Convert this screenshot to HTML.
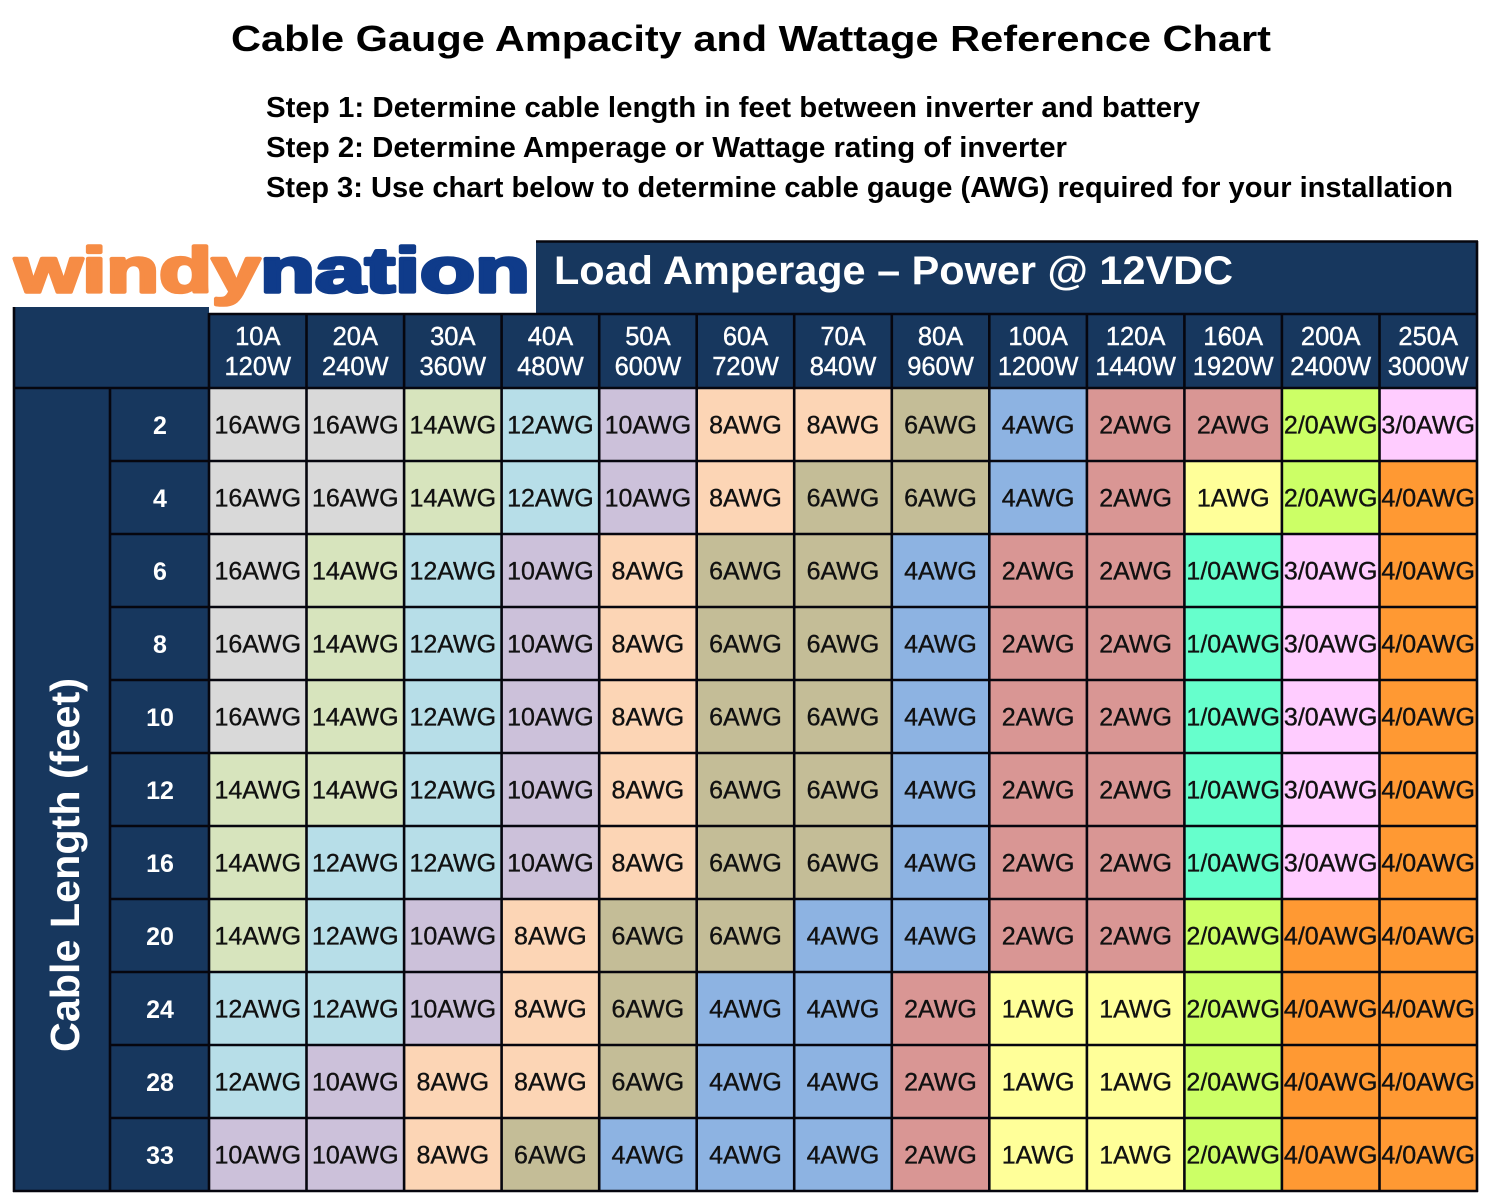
<!DOCTYPE html>
<html><head><meta charset="utf-8"><style>
html,body{margin:0;padding:0;background:#fff;}
svg{display:block;}
.c16{fill:#d9d9d9}.c14{fill:#d7e4bd}.c12{fill:#b7dee8}.c10{fill:#ccc1da}.c8{fill:#fcd5b5}.c6{fill:#c4bd97}
.c4{fill:#8db3e2}.c2{fill:#d99694}.c1{fill:#ffff99}.z1{fill:#66ffcc}.z2{fill:#ccff66}.z3{fill:#ffccff}.z4{fill:#ff9933}
.t{font-family:"Liberation Sans",Arial,sans-serif;font-size:25px;fill:#111;stroke:#111;stroke-width:0.35;text-anchor:middle}
.h{font-family:"Liberation Sans",Arial,sans-serif;font-size:25.5px;fill:#fff;stroke:#fff;stroke-width:0.4;text-anchor:middle}
.r{font-family:"Liberation Sans",Arial,sans-serif;font-size:25px;font-weight:bold;fill:#fff;text-anchor:middle}
.ln{stroke:#06060e;stroke-width:2.6}
</style></head><body>
<svg width="1502" height="1193" viewBox="0 0 1502 1193" xmlns="http://www.w3.org/2000/svg">
<rect width="1502" height="1193" fill="#fff"/>
<text x="231" y="51" font-family="Liberation Sans, Arial, sans-serif" font-size="36" font-weight="bold" fill="#000" textLength="1040" lengthAdjust="spacingAndGlyphs">Cable Gauge Ampacity and Wattage Reference Chart</text>
<g font-family="Liberation Sans, Arial, sans-serif" font-size="29" font-weight="bold" fill="#000">
<text x="266" y="117" textLength="934" lengthAdjust="spacingAndGlyphs">Step 1: Determine cable length in feet between inverter and battery</text>
<text x="266" y="157" textLength="801" lengthAdjust="spacingAndGlyphs">Step 2: Determine Amperage or Wattage rating of inverter</text>
<text x="266" y="197" textLength="1187" lengthAdjust="spacingAndGlyphs">Step 3: Use chart below to determine cable gauge (AWG) required for your installation</text>
</g>
<!-- logo -->
<text x="15" y="292" font-family="Liberation Sans, Arial, sans-serif" font-size="63" font-weight="bold" fill="#f68c45" stroke="#f68c45" stroke-width="3.5" stroke-linejoin="round" textLength="245" lengthAdjust="spacingAndGlyphs">windy</text>
<text x="260" y="292" font-family="Liberation Sans, Arial, sans-serif" font-size="63" font-weight="bold" fill="#0f3b8a" stroke="#0f3b8a" stroke-width="3.5" stroke-linejoin="round" textLength="270" lengthAdjust="spacingAndGlyphs">nation</text>
<!-- navy areas -->
<rect x="536" y="241" width="942" height="73" fill="#17375e"/>
<rect x="14" y="307" width="195" height="884" fill="#17375e"/>
<rect x="209" y="313" width="1269" height="76" fill="#17375e"/>
<text x="554" y="284" font-family="Liberation Sans, Arial, sans-serif" font-size="40" font-weight="bold" fill="#fff" textLength="679" lengthAdjust="spacingAndGlyphs">Load Amperage – Power @ 12VDC</text>
<!-- column headers -->
<g>
<text class="h" x="257.8" y="345">10A</text><text class="h" x="257.8" y="375">120W</text>
<text class="h" x="355.3" y="345">20A</text><text class="h" x="355.3" y="375">240W</text>
<text class="h" x="452.8" y="345">30A</text><text class="h" x="452.8" y="375">360W</text>
<text class="h" x="550.4" y="345">40A</text><text class="h" x="550.4" y="375">480W</text>
<text class="h" x="647.9" y="345">50A</text><text class="h" x="647.9" y="375">600W</text>
<text class="h" x="745.5" y="345">60A</text><text class="h" x="745.5" y="375">720W</text>
<text class="h" x="843.0" y="345">70A</text><text class="h" x="843.0" y="375">840W</text>
<text class="h" x="940.5" y="345">80A</text><text class="h" x="940.5" y="375">960W</text>
<text class="h" x="1038.1" y="345">100A</text><text class="h" x="1038.1" y="375">1200W</text>
<text class="h" x="1135.6" y="345">120A</text><text class="h" x="1135.6" y="375">1440W</text>
<text class="h" x="1233.2" y="345">160A</text><text class="h" x="1233.2" y="375">1920W</text>
<text class="h" x="1330.7" y="345">200A</text><text class="h" x="1330.7" y="375">2400W</text>
<text class="h" x="1428.2" y="345">250A</text><text class="h" x="1428.2" y="375">3000W</text>
</g>
<!-- vertical label -->
<text transform="translate(79,865) rotate(-90)" text-anchor="middle" font-family="Liberation Sans, Arial, sans-serif" font-size="41" font-weight="bold" fill="#fff" textLength="374" lengthAdjust="spacingAndGlyphs">Cable Length (feet)</text>
<!-- row labels -->
<text class="r" x="160" y="434">2</text>
<text class="r" x="160" y="507">4</text>
<text class="r" x="160" y="580">6</text>
<text class="r" x="160" y="653">8</text>
<text class="r" x="160" y="726">10</text>
<text class="r" x="160" y="799">12</text>
<text class="r" x="160" y="872">16</text>
<text class="r" x="160" y="945">20</text>
<text class="r" x="160" y="1018">24</text>
<text class="r" x="160" y="1091">28</text>
<text class="r" x="160" y="1164">33</text>

<!-- Row 2 -->
<g transform="translate(0,0)">
<rect class="c16" x="209" y="388" width="97.6" height="73"/><rect class="c16" x="306.5" y="388" width="97.6" height="73"/><rect class="c14" x="404.1" y="388" width="97.6" height="73"/><rect class="c12" x="501.6" y="388" width="97.6" height="73"/><rect class="c10" x="599.2" y="388" width="97.6" height="73"/><rect class="c8" x="696.7" y="388" width="97.6" height="73"/><rect class="c8" x="794.2" y="388" width="97.6" height="73"/><rect class="c6" x="891.8" y="388" width="97.6" height="73"/><rect class="c4" x="989.3" y="388" width="97.6" height="73"/><rect class="c2" x="1086.9" y="388" width="97.6" height="73"/><rect class="c2" x="1184.4" y="388" width="97.6" height="73"/><rect class="z2" x="1281.9" y="388" width="97.6" height="73"/><rect class="z3" x="1379.5" y="388" width="97.6" height="73"/>
<text class="t" x="257.8" y="433.5">16AWG</text><text class="t" x="355.3" y="433.5">16AWG</text><text class="t" x="452.8" y="433.5">14AWG</text><text class="t" x="550.4" y="433.5">12AWG</text><text class="t" x="647.9" y="433.5">10AWG</text><text class="t" x="745.5" y="433.5">8AWG</text><text class="t" x="843.0" y="433.5">8AWG</text><text class="t" x="940.5" y="433.5">6AWG</text><text class="t" x="1038.1" y="433.5">4AWG</text><text class="t" x="1135.6" y="433.5">2AWG</text><text class="t" x="1233.2" y="433.5">2AWG</text><text class="t" x="1330.7" y="433.5">2/0AWG</text><text class="t" x="1428.2" y="433.5">3/0AWG</text>
</g>
<!-- Row 4 -->
<g transform="translate(0,73)">
<rect class="c16" x="209" y="388" width="97.6" height="73"/><rect class="c16" x="306.5" y="388" width="97.6" height="73"/><rect class="c14" x="404.1" y="388" width="97.6" height="73"/><rect class="c12" x="501.6" y="388" width="97.6" height="73"/><rect class="c10" x="599.2" y="388" width="97.6" height="73"/><rect class="c8" x="696.7" y="388" width="97.6" height="73"/><rect class="c6" x="794.2" y="388" width="97.6" height="73"/><rect class="c6" x="891.8" y="388" width="97.6" height="73"/><rect class="c4" x="989.3" y="388" width="97.6" height="73"/><rect class="c2" x="1086.9" y="388" width="97.6" height="73"/><rect class="c1" x="1184.4" y="388" width="97.6" height="73"/><rect class="z2" x="1281.9" y="388" width="97.6" height="73"/><rect class="z4" x="1379.5" y="388" width="97.6" height="73"/>
<text class="t" x="257.8" y="433.5">16AWG</text><text class="t" x="355.3" y="433.5">16AWG</text><text class="t" x="452.8" y="433.5">14AWG</text><text class="t" x="550.4" y="433.5">12AWG</text><text class="t" x="647.9" y="433.5">10AWG</text><text class="t" x="745.5" y="433.5">8AWG</text><text class="t" x="843.0" y="433.5">6AWG</text><text class="t" x="940.5" y="433.5">6AWG</text><text class="t" x="1038.1" y="433.5">4AWG</text><text class="t" x="1135.6" y="433.5">2AWG</text><text class="t" x="1233.2" y="433.5">1AWG</text><text class="t" x="1330.7" y="433.5">2/0AWG</text><text class="t" x="1428.2" y="433.5">4/0AWG</text>
</g>
<!-- Row 6 -->
<g transform="translate(0,146)">
<rect class="c16" x="209" y="388" width="97.6" height="73"/><rect class="c14" x="306.5" y="388" width="97.6" height="73"/><rect class="c12" x="404.1" y="388" width="97.6" height="73"/><rect class="c10" x="501.6" y="388" width="97.6" height="73"/><rect class="c8" x="599.2" y="388" width="97.6" height="73"/><rect class="c6" x="696.7" y="388" width="97.6" height="73"/><rect class="c6" x="794.2" y="388" width="97.6" height="73"/><rect class="c4" x="891.8" y="388" width="97.6" height="73"/><rect class="c2" x="989.3" y="388" width="97.6" height="73"/><rect class="c2" x="1086.9" y="388" width="97.6" height="73"/><rect class="z1" x="1184.4" y="388" width="97.6" height="73"/><rect class="z3" x="1281.9" y="388" width="97.6" height="73"/><rect class="z4" x="1379.5" y="388" width="97.6" height="73"/>
<text class="t" x="257.8" y="433.5">16AWG</text><text class="t" x="355.3" y="433.5">14AWG</text><text class="t" x="452.8" y="433.5">12AWG</text><text class="t" x="550.4" y="433.5">10AWG</text><text class="t" x="647.9" y="433.5">8AWG</text><text class="t" x="745.5" y="433.5">6AWG</text><text class="t" x="843.0" y="433.5">6AWG</text><text class="t" x="940.5" y="433.5">4AWG</text><text class="t" x="1038.1" y="433.5">2AWG</text><text class="t" x="1135.6" y="433.5">2AWG</text><text class="t" x="1233.2" y="433.5">1/0AWG</text><text class="t" x="1330.7" y="433.5">3/0AWG</text><text class="t" x="1428.2" y="433.5">4/0AWG</text>
</g>
<!-- Row 8 -->
<g transform="translate(0,219)">
<rect class="c16" x="209" y="388" width="97.6" height="73"/><rect class="c14" x="306.5" y="388" width="97.6" height="73"/><rect class="c12" x="404.1" y="388" width="97.6" height="73"/><rect class="c10" x="501.6" y="388" width="97.6" height="73"/><rect class="c8" x="599.2" y="388" width="97.6" height="73"/><rect class="c6" x="696.7" y="388" width="97.6" height="73"/><rect class="c6" x="794.2" y="388" width="97.6" height="73"/><rect class="c4" x="891.8" y="388" width="97.6" height="73"/><rect class="c2" x="989.3" y="388" width="97.6" height="73"/><rect class="c2" x="1086.9" y="388" width="97.6" height="73"/><rect class="z1" x="1184.4" y="388" width="97.6" height="73"/><rect class="z3" x="1281.9" y="388" width="97.6" height="73"/><rect class="z4" x="1379.5" y="388" width="97.6" height="73"/>
<text class="t" x="257.8" y="433.5">16AWG</text><text class="t" x="355.3" y="433.5">14AWG</text><text class="t" x="452.8" y="433.5">12AWG</text><text class="t" x="550.4" y="433.5">10AWG</text><text class="t" x="647.9" y="433.5">8AWG</text><text class="t" x="745.5" y="433.5">6AWG</text><text class="t" x="843.0" y="433.5">6AWG</text><text class="t" x="940.5" y="433.5">4AWG</text><text class="t" x="1038.1" y="433.5">2AWG</text><text class="t" x="1135.6" y="433.5">2AWG</text><text class="t" x="1233.2" y="433.5">1/0AWG</text><text class="t" x="1330.7" y="433.5">3/0AWG</text><text class="t" x="1428.2" y="433.5">4/0AWG</text>
</g>
<!-- Row 10 -->
<g transform="translate(0,292)">
<rect class="c16" x="209" y="388" width="97.6" height="73"/><rect class="c14" x="306.5" y="388" width="97.6" height="73"/><rect class="c12" x="404.1" y="388" width="97.6" height="73"/><rect class="c10" x="501.6" y="388" width="97.6" height="73"/><rect class="c8" x="599.2" y="388" width="97.6" height="73"/><rect class="c6" x="696.7" y="388" width="97.6" height="73"/><rect class="c6" x="794.2" y="388" width="97.6" height="73"/><rect class="c4" x="891.8" y="388" width="97.6" height="73"/><rect class="c2" x="989.3" y="388" width="97.6" height="73"/><rect class="c2" x="1086.9" y="388" width="97.6" height="73"/><rect class="z1" x="1184.4" y="388" width="97.6" height="73"/><rect class="z3" x="1281.9" y="388" width="97.6" height="73"/><rect class="z4" x="1379.5" y="388" width="97.6" height="73"/>
<text class="t" x="257.8" y="433.5">16AWG</text><text class="t" x="355.3" y="433.5">14AWG</text><text class="t" x="452.8" y="433.5">12AWG</text><text class="t" x="550.4" y="433.5">10AWG</text><text class="t" x="647.9" y="433.5">8AWG</text><text class="t" x="745.5" y="433.5">6AWG</text><text class="t" x="843.0" y="433.5">6AWG</text><text class="t" x="940.5" y="433.5">4AWG</text><text class="t" x="1038.1" y="433.5">2AWG</text><text class="t" x="1135.6" y="433.5">2AWG</text><text class="t" x="1233.2" y="433.5">1/0AWG</text><text class="t" x="1330.7" y="433.5">3/0AWG</text><text class="t" x="1428.2" y="433.5">4/0AWG</text>
</g>
<!-- Row 12 -->
<g transform="translate(0,365)">
<rect class="c14" x="209" y="388" width="97.6" height="73"/><rect class="c14" x="306.5" y="388" width="97.6" height="73"/><rect class="c12" x="404.1" y="388" width="97.6" height="73"/><rect class="c10" x="501.6" y="388" width="97.6" height="73"/><rect class="c8" x="599.2" y="388" width="97.6" height="73"/><rect class="c6" x="696.7" y="388" width="97.6" height="73"/><rect class="c6" x="794.2" y="388" width="97.6" height="73"/><rect class="c4" x="891.8" y="388" width="97.6" height="73"/><rect class="c2" x="989.3" y="388" width="97.6" height="73"/><rect class="c2" x="1086.9" y="388" width="97.6" height="73"/><rect class="z1" x="1184.4" y="388" width="97.6" height="73"/><rect class="z3" x="1281.9" y="388" width="97.6" height="73"/><rect class="z4" x="1379.5" y="388" width="97.6" height="73"/>
<text class="t" x="257.8" y="433.5">14AWG</text><text class="t" x="355.3" y="433.5">14AWG</text><text class="t" x="452.8" y="433.5">12AWG</text><text class="t" x="550.4" y="433.5">10AWG</text><text class="t" x="647.9" y="433.5">8AWG</text><text class="t" x="745.5" y="433.5">6AWG</text><text class="t" x="843.0" y="433.5">6AWG</text><text class="t" x="940.5" y="433.5">4AWG</text><text class="t" x="1038.1" y="433.5">2AWG</text><text class="t" x="1135.6" y="433.5">2AWG</text><text class="t" x="1233.2" y="433.5">1/0AWG</text><text class="t" x="1330.7" y="433.5">3/0AWG</text><text class="t" x="1428.2" y="433.5">4/0AWG</text>
</g>
<!-- Row 16 -->
<g transform="translate(0,438)">
<rect class="c14" x="209" y="388" width="97.6" height="73"/><rect class="c12" x="306.5" y="388" width="97.6" height="73"/><rect class="c12" x="404.1" y="388" width="97.6" height="73"/><rect class="c10" x="501.6" y="388" width="97.6" height="73"/><rect class="c8" x="599.2" y="388" width="97.6" height="73"/><rect class="c6" x="696.7" y="388" width="97.6" height="73"/><rect class="c6" x="794.2" y="388" width="97.6" height="73"/><rect class="c4" x="891.8" y="388" width="97.6" height="73"/><rect class="c2" x="989.3" y="388" width="97.6" height="73"/><rect class="c2" x="1086.9" y="388" width="97.6" height="73"/><rect class="z1" x="1184.4" y="388" width="97.6" height="73"/><rect class="z3" x="1281.9" y="388" width="97.6" height="73"/><rect class="z4" x="1379.5" y="388" width="97.6" height="73"/>
<text class="t" x="257.8" y="433.5">14AWG</text><text class="t" x="355.3" y="433.5">12AWG</text><text class="t" x="452.8" y="433.5">12AWG</text><text class="t" x="550.4" y="433.5">10AWG</text><text class="t" x="647.9" y="433.5">8AWG</text><text class="t" x="745.5" y="433.5">6AWG</text><text class="t" x="843.0" y="433.5">6AWG</text><text class="t" x="940.5" y="433.5">4AWG</text><text class="t" x="1038.1" y="433.5">2AWG</text><text class="t" x="1135.6" y="433.5">2AWG</text><text class="t" x="1233.2" y="433.5">1/0AWG</text><text class="t" x="1330.7" y="433.5">3/0AWG</text><text class="t" x="1428.2" y="433.5">4/0AWG</text>
</g>
<!-- Row 20 -->
<g transform="translate(0,511)">
<rect class="c14" x="209" y="388" width="97.6" height="73"/><rect class="c12" x="306.5" y="388" width="97.6" height="73"/><rect class="c10" x="404.1" y="388" width="97.6" height="73"/><rect class="c8" x="501.6" y="388" width="97.6" height="73"/><rect class="c6" x="599.2" y="388" width="97.6" height="73"/><rect class="c6" x="696.7" y="388" width="97.6" height="73"/><rect class="c4" x="794.2" y="388" width="97.6" height="73"/><rect class="c4" x="891.8" y="388" width="97.6" height="73"/><rect class="c2" x="989.3" y="388" width="97.6" height="73"/><rect class="c2" x="1086.9" y="388" width="97.6" height="73"/><rect class="z2" x="1184.4" y="388" width="97.6" height="73"/><rect class="z4" x="1281.9" y="388" width="97.6" height="73"/><rect class="z4" x="1379.5" y="388" width="97.6" height="73"/>
<text class="t" x="257.8" y="433.5">14AWG</text><text class="t" x="355.3" y="433.5">12AWG</text><text class="t" x="452.8" y="433.5">10AWG</text><text class="t" x="550.4" y="433.5">8AWG</text><text class="t" x="647.9" y="433.5">6AWG</text><text class="t" x="745.5" y="433.5">6AWG</text><text class="t" x="843.0" y="433.5">4AWG</text><text class="t" x="940.5" y="433.5">4AWG</text><text class="t" x="1038.1" y="433.5">2AWG</text><text class="t" x="1135.6" y="433.5">2AWG</text><text class="t" x="1233.2" y="433.5">2/0AWG</text><text class="t" x="1330.7" y="433.5">4/0AWG</text><text class="t" x="1428.2" y="433.5">4/0AWG</text>
</g>
<!-- Row 24 -->
<g transform="translate(0,584)">
<rect class="c12" x="209" y="388" width="97.6" height="73"/><rect class="c12" x="306.5" y="388" width="97.6" height="73"/><rect class="c10" x="404.1" y="388" width="97.6" height="73"/><rect class="c8" x="501.6" y="388" width="97.6" height="73"/><rect class="c6" x="599.2" y="388" width="97.6" height="73"/><rect class="c4" x="696.7" y="388" width="97.6" height="73"/><rect class="c4" x="794.2" y="388" width="97.6" height="73"/><rect class="c2" x="891.8" y="388" width="97.6" height="73"/><rect class="c1" x="989.3" y="388" width="97.6" height="73"/><rect class="c1" x="1086.9" y="388" width="97.6" height="73"/><rect class="z2" x="1184.4" y="388" width="97.6" height="73"/><rect class="z4" x="1281.9" y="388" width="97.6" height="73"/><rect class="z4" x="1379.5" y="388" width="97.6" height="73"/>
<text class="t" x="257.8" y="433.5">12AWG</text><text class="t" x="355.3" y="433.5">12AWG</text><text class="t" x="452.8" y="433.5">10AWG</text><text class="t" x="550.4" y="433.5">8AWG</text><text class="t" x="647.9" y="433.5">6AWG</text><text class="t" x="745.5" y="433.5">4AWG</text><text class="t" x="843.0" y="433.5">4AWG</text><text class="t" x="940.5" y="433.5">2AWG</text><text class="t" x="1038.1" y="433.5">1AWG</text><text class="t" x="1135.6" y="433.5">1AWG</text><text class="t" x="1233.2" y="433.5">2/0AWG</text><text class="t" x="1330.7" y="433.5">4/0AWG</text><text class="t" x="1428.2" y="433.5">4/0AWG</text>
</g>
<!-- Row 28 -->
<g transform="translate(0,657)">
<rect class="c12" x="209" y="388" width="97.6" height="73"/><rect class="c10" x="306.5" y="388" width="97.6" height="73"/><rect class="c8" x="404.1" y="388" width="97.6" height="73"/><rect class="c8" x="501.6" y="388" width="97.6" height="73"/><rect class="c6" x="599.2" y="388" width="97.6" height="73"/><rect class="c4" x="696.7" y="388" width="97.6" height="73"/><rect class="c4" x="794.2" y="388" width="97.6" height="73"/><rect class="c2" x="891.8" y="388" width="97.6" height="73"/><rect class="c1" x="989.3" y="388" width="97.6" height="73"/><rect class="c1" x="1086.9" y="388" width="97.6" height="73"/><rect class="z2" x="1184.4" y="388" width="97.6" height="73"/><rect class="z4" x="1281.9" y="388" width="97.6" height="73"/><rect class="z4" x="1379.5" y="388" width="97.6" height="73"/>
<text class="t" x="257.8" y="433.5">12AWG</text><text class="t" x="355.3" y="433.5">10AWG</text><text class="t" x="452.8" y="433.5">8AWG</text><text class="t" x="550.4" y="433.5">8AWG</text><text class="t" x="647.9" y="433.5">6AWG</text><text class="t" x="745.5" y="433.5">4AWG</text><text class="t" x="843.0" y="433.5">4AWG</text><text class="t" x="940.5" y="433.5">2AWG</text><text class="t" x="1038.1" y="433.5">1AWG</text><text class="t" x="1135.6" y="433.5">1AWG</text><text class="t" x="1233.2" y="433.5">2/0AWG</text><text class="t" x="1330.7" y="433.5">4/0AWG</text><text class="t" x="1428.2" y="433.5">4/0AWG</text>
</g>
<!-- Row 33 -->
<g transform="translate(0,730)">
<rect class="c10" x="209" y="388" width="97.6" height="73"/><rect class="c10" x="306.5" y="388" width="97.6" height="73"/><rect class="c8" x="404.1" y="388" width="97.6" height="73"/><rect class="c6" x="501.6" y="388" width="97.6" height="73"/><rect class="c4" x="599.2" y="388" width="97.6" height="73"/><rect class="c4" x="696.7" y="388" width="97.6" height="73"/><rect class="c4" x="794.2" y="388" width="97.6" height="73"/><rect class="c2" x="891.8" y="388" width="97.6" height="73"/><rect class="c1" x="989.3" y="388" width="97.6" height="73"/><rect class="c1" x="1086.9" y="388" width="97.6" height="73"/><rect class="z2" x="1184.4" y="388" width="97.6" height="73"/><rect class="z4" x="1281.9" y="388" width="97.6" height="73"/><rect class="z4" x="1379.5" y="388" width="97.6" height="73"/>
<text class="t" x="257.8" y="433.5">10AWG</text><text class="t" x="355.3" y="433.5">10AWG</text><text class="t" x="452.8" y="433.5">8AWG</text><text class="t" x="550.4" y="433.5">6AWG</text><text class="t" x="647.9" y="433.5">4AWG</text><text class="t" x="745.5" y="433.5">4AWG</text><text class="t" x="843.0" y="433.5">4AWG</text><text class="t" x="940.5" y="433.5">2AWG</text><text class="t" x="1038.1" y="433.5">1AWG</text><text class="t" x="1135.6" y="433.5">1AWG</text><text class="t" x="1233.2" y="433.5">2/0AWG</text><text class="t" x="1330.7" y="433.5">4/0AWG</text><text class="t" x="1428.2" y="433.5">4/0AWG</text>
</g>

<!-- grid lines -->
<g class="ln">
<line x1="536" y1="241.5" x2="1478" y2="241.5"/>
<line x1="209" y1="314" x2="1478" y2="314"/>
<line x1="13" y1="388" x2="1478" y2="388"/>
<line x1="110" y1="461" x2="1478" y2="461"/>
<line x1="110" y1="534" x2="1478" y2="534"/>
<line x1="110" y1="607" x2="1478" y2="607"/>
<line x1="110" y1="680" x2="1478" y2="680"/>
<line x1="110" y1="753" x2="1478" y2="753"/>
<line x1="110" y1="826" x2="1478" y2="826"/>
<line x1="110" y1="899" x2="1478" y2="899"/>
<line x1="110" y1="972" x2="1478" y2="972"/>
<line x1="110" y1="1045" x2="1478" y2="1045"/>
<line x1="110" y1="1118" x2="1478" y2="1118"/>
<line x1="13" y1="1191" x2="1478" y2="1191"/>
<line x1="14" y1="307" x2="14" y2="1192"/>
<line x1="110" y1="388" x2="110" y2="1192"/>
<line x1="209" y1="313" x2="209" y2="1192"/>
<line x1="306.5" y1="313" x2="306.5" y2="1192"/>
<line x1="404.1" y1="313" x2="404.1" y2="1192"/>
<line x1="501.6" y1="313" x2="501.6" y2="1192"/>
<line x1="599.2" y1="313" x2="599.2" y2="1192"/>
<line x1="696.7" y1="313" x2="696.7" y2="1192"/>
<line x1="794.2" y1="313" x2="794.2" y2="1192"/>
<line x1="891.8" y1="313" x2="891.8" y2="1192"/>
<line x1="989.3" y1="313" x2="989.3" y2="1192"/>
<line x1="1086.9" y1="313" x2="1086.9" y2="1192"/>
<line x1="1184.4" y1="313" x2="1184.4" y2="1192"/>
<line x1="1281.9" y1="313" x2="1281.9" y2="1192"/>
<line x1="1379.5" y1="313" x2="1379.5" y2="1192"/>
<line x1="1477" y1="241" x2="1477" y2="1192"/>
</g>
</svg>
</body></html>
